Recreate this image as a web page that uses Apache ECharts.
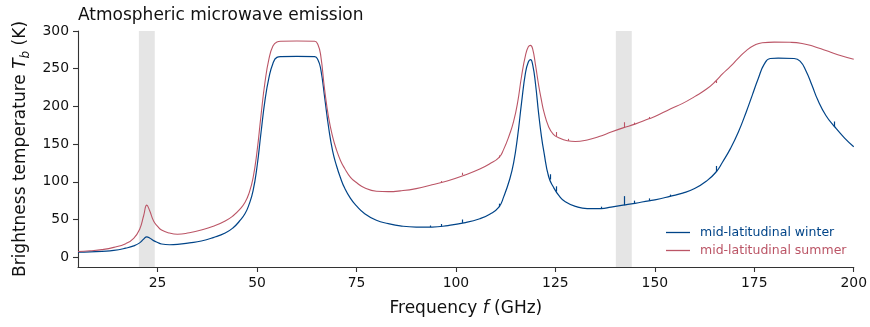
<!DOCTYPE html>
<html>
<head>
<meta charset="utf-8">
<script src="https://cdn.jsdelivr.net/npm/echarts@6/dist/echarts.min.js"></script>
<style>html,body{margin:0;padding:0;background:#fff;}#c{width:870px;height:327px;}</style>
</head>
<body>
<div id="c"></div>
<script>
const seriesNames = ['mid-latitudinal winter', 'mid-latitudinal summer'];
const xTicks = [25, 50, 75, 100, 125, 150, 175, 200];
const yTicks = [0, 50, 100, 150, 200, 250, 300];
const bandStart = [20.3, 140.2];
const bandEnd = [24.3, 144.2];

const winterFreq = [5,8,11,14,17,19,20.5,21.5,22.3,23,24,25,26,28,30,33,36,39,42,44,45.6,47,48,49,50,51,52,53,54,55,56,60,64.5,65.3,66,67,68,69,70,71,72,73.5,75,77,80,83,86,90,94,98,102,106,108.5,110.8,112,113.5,114.5,115.5,116.5,117.5,118.2,118.75,119.3,120,120.8,121.5,122.1,123.3,124.5,126,127.5,130,133,136.5,139,142,145,148.5,150,154,157,160,163,165.4,167,169,171,173,174.5,176,177.5,179,181,185,186.5,188,189.5,191,193,195.2,197.7,200];
const winterTb = [6.6,7,7.8,9,12,15,19,24,27,25.5,22,19.5,17.5,16.5,17,19,21.5,26,32,39,48,58,70,88,120,165,208,238,257,265,266,266.3,266,262,250,212,172,141,121,105,92,78,68,58,49,44.5,41.5,40,40,42,45.5,51,57,66.5,80,103,125,160,205,245,259,262,255,230,190,160,140,107,93,81,73.5,67.5,64.5,64.5,66.5,69,71.5,74.8,76,81,85,91,101,113,126,144,166,193,215,237,256,263.5,264,263.5,260,247,228,208,188,173,158,146.5];
const winterSpikeFreq = [93.6,96.2,101.7,110.8,123.6,125.2,136.6,142.2,144.9,148.5,153.8,165.4,195.2];
const winterSpikeBase = [40,40.5,45.5,66.5,103,87,64.5,69,71.5,74.8,80.5,113,173];
const winterSpikeTop = [42,44,50,71,110,94,67,81,75,78,83,121,180];

const summerFreq = [5,8,11,14,17,19,20.5,21.5,22.3,23,24,25,26,28,30,33,36,39,42,44,45.6,47,48,49,50,51,52,53,54,55,56,60,64.5,65.3,66,67,68,69,70,71,72,73.5,75,77,80,83,86,90,94,98,102,106,108.5,110.8,112,113.5,114.5,115.5,116.5,117.5,118.2,118.75,119.3,120,120.8,121.5,122.1,123.3,124.5,126,128,130,133,136,139,142,145,148.5,150,154,157,160,163,165.4,167,169,171,173,175,177,180,184,187,190,193,196,200];
const summerTb = [7.5,8.5,10,13,18,25,37,55,69,62,48,41,36,32,30.5,32.5,36,41,48,55,63,73,85,105,140,188,232,263,280,285.5,286.5,286.7,286.5,282,268,222,185,160,142,128,118,106,99,92,87.5,87,88,91,96,101.5,108.5,117,124,132,143,163,180,205,240,268,279,281,276,255,228,208,193,173,163,158,154.5,153.5,155.5,160,166,171.5,176.5,183.5,186.5,197,204,213,223,234,243,253,264,274,281,284.5,285.3,285,283.5,279.5,274,268.5,262.5];
const summerSpikeFreq = [96.2,101.7,110.8,125.2,128.2,142.2,144.9,148.5,165.4];
const summerSpikeBase = [99,109,132,160,154.3,171.5,176.5,183.5,234];
const summerSpikeTop = [101,112,135,166,157,179,178.5,186,231];

const colors = ['#004488', '#BB5566'];
const FONT = 'DejaVu Sans';

function pairs(xs, ys) { return xs.map((x, i) => [x, ys[i]]); }
function spikes(fs, b, t) { return fs.map((f, i) => [{coord: [f, b[i]]}, {coord: [f, t[i]]}]); }

const labelRich = {
  n: {fontFamily: FONT, fontSize: 17, color: '#111'},
  i: {fontFamily: FONT, fontSize: 17, fontStyle: 'italic', color: '#111'},
  sub: {fontFamily: FONT, fontSize: 12, fontStyle: 'italic', color: '#111', verticalAlign: 'bottom', padding: [0, 0, -3, 0]}
};

const chart = echarts.init(document.getElementById('c'), null, {renderer: 'canvas'});
chart.setOption({
  animation: false,
  backgroundColor: '#fff',
  textStyle: {fontFamily: FONT},
  title: {
    text: 'Atmospheric microwave emission',
    left: 73, top: 2,
    textStyle: {fontFamily: FONT, fontSize: 17, fontWeight: 'normal', color: '#111'}
  },
  grid: {left: 78, right: 15, top: 31, bottom: 60, containLabel: false},
  legend: {
    orient: 'vertical',
    left: 661, top: 220,
    icon: 'rect',
    itemWidth: 24, itemHeight: 1.3, itemGap: 3,
    textStyle: {fontFamily: FONT, fontSize: 12.5, lineHeight: 15, padding: [0, 0, 0, 5]},
    data: [
      {name: seriesNames[0], textStyle: {color: colors[0]}},
      {name: seriesNames[1], textStyle: {color: colors[1]}}
    ]
  },
  xAxis: {
    type: 'value', min: 5, max: 200,
    name: '{n|Frequency }{i|f}{n| (GHz)}',
    nameLocation: 'middle', nameGap: 33,
    nameTextStyle: {fontFamily: FONT, fontSize: 17, color: '#111', rich: labelRich},
    axisLine: {show: true, onZero: false, lineStyle: {color: '#333', width: 1.1}},
    axisTick: {show: true, length: 5, lineStyle: {color: '#333', width: 1.1}, customValues: xTicks},
    axisLabel: {fontFamily: FONT, fontSize: 13.9, color: '#111', margin: 9, customValues: xTicks},
    splitLine: {show: false}
  },
  yAxis: {
    type: 'value', min: -13, max: 300,
    name: '{n|Brightness temperature }{i|T}{sub|b}{n| (K)}',
    nameLocation: 'middle', nameGap: 48, nameRotate: 90,
    nameTextStyle: {fontFamily: FONT, fontSize: 17, color: '#111', rich: labelRich},
    axisLine: {show: true, onZero: false, lineStyle: {color: '#333', width: 1.1}},
    axisTick: {show: true, length: 5, lineStyle: {color: '#333', width: 1.1}, customValues: yTicks},
    axisLabel: {fontFamily: FONT, fontSize: 13.9, color: '#111', margin: 9, customValues: yTicks},
    splitLine: {show: false}
  },
  series: [
    {
      type: 'line', name: 'bands', data: [], z: 1, silent: true,
      markArea: {
        silent: true,
        itemStyle: {color: '#e5e5e5'},
        data: bandStart.map((s, i) => [{xAxis: s}, {xAxis: bandEnd[i]}])
      }
    },
    {
      type: 'line', name: seriesNames[0], z: 3,
      data: pairs(winterFreq, winterTb),
      showSymbol: false, symbol: 'none', smooth: 0.5,
      lineStyle: {color: colors[0], width: 1.2}, itemStyle: {color: colors[0]},
      markLine: {
        silent: true, symbol: ['none', 'none'], label: {show: false},
        lineStyle: {color: colors[0], width: 1.2, type: 'solid'},
        data: spikes(winterSpikeFreq, winterSpikeBase, winterSpikeTop)
      }
    },
    {
      type: 'line', name: seriesNames[1], z: 3,
      data: pairs(summerFreq, summerTb),
      showSymbol: false, symbol: 'none', smooth: 0.5,
      lineStyle: {color: colors[1], width: 1.1}, itemStyle: {color: colors[1]},
      markLine: {
        silent: true, symbol: ['none', 'none'], label: {show: false},
        lineStyle: {color: colors[1], width: 1.1, type: 'solid'},
        data: spikes(summerSpikeFreq, summerSpikeBase, summerSpikeTop)
      }
    }
  ]
});
</script>
</body>
</html>
